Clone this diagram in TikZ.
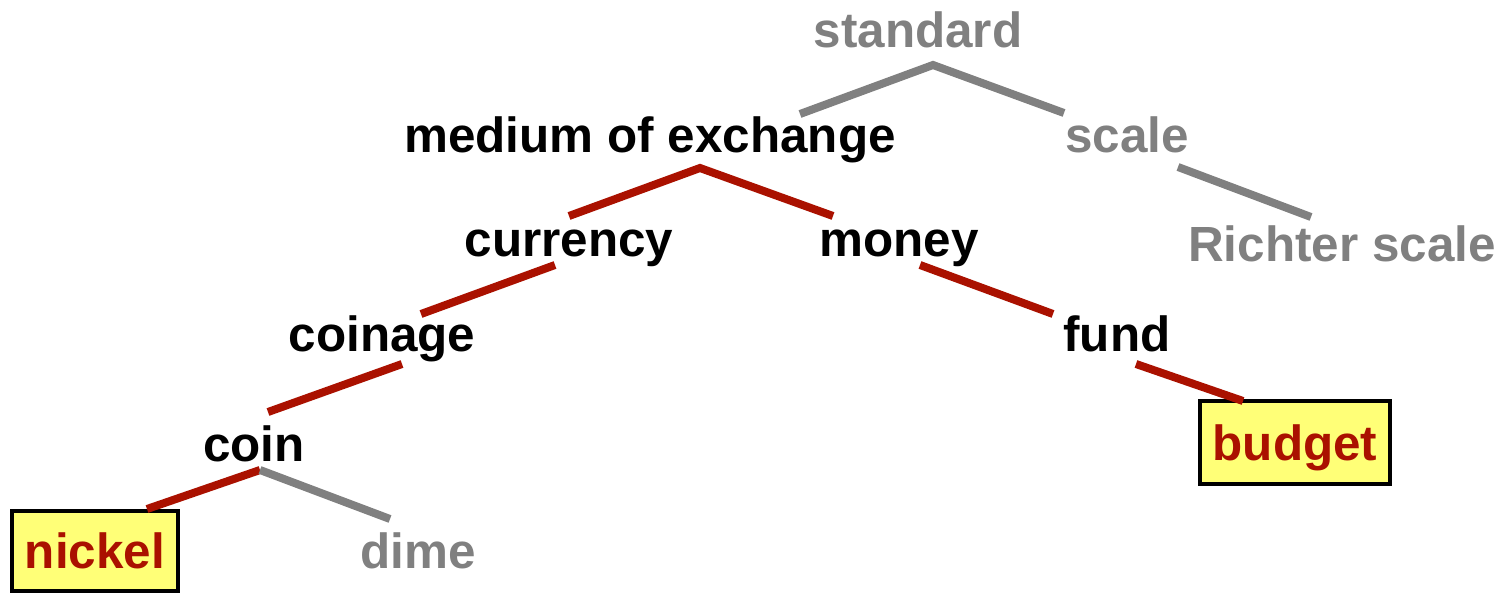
\documentclass[tikz,border=0pt]{standalone}
\usepackage{fontspec}
\setmainfont{Liberation Sans}
\definecolor{tred}{RGB}{170,17,0}
\definecolor{tgray}{RGB}{128,128,128}
\definecolor{tyellow}{RGB}{255,255,119}
\begin{document}
\begin{tikzpicture}[x=0.5pt,y=-0.5pt,
  word/.style={anchor=base,inner sep=0pt,font=\fontsize{24.7}{30}\selectfont\bfseries},
  blk/.style={word,text=black},
  gry/.style={word,text=tgray},
  hit/.style={font=\fontsize{24.7}{30}\selectfont\bfseries,text=tred,draw=black,line width=2pt,fill=tyellow,
     inner sep=0pt,text depth=0pt},
  redline/.style={draw=tred,line width=4pt},
  grayline/.style={draw=tgray,line width=4pt}]
\useasboundingbox (0,0) rectangle (1500,594);
% words
\node[gry] (standard) at (918,47) {standard};
\node[blk] (medium) at (650,152) {medium of exchange};
\node[gry] (scale) at (1127,152) {scale};
\node[blk] (currency) at (569,256) {currency};
\node[blk] (money) at (899,256) {money};
\node[gry] (richter) at (1342,261) {Richter scale};
\node[blk] (coinage) at (382,351) {coinage};
\node[blk] (fund) at (1117,351) {fund};
\node[blk] (coin) at (254,461) {coin};
\node[gry] (dime) at (418,568) {dime};
\node[hit,minimum width=95pt,minimum height=41.5pt,text height=17.5pt] (budget) at (1295,442.5) {budget};
\node[hit,minimum width=83pt,minimum height=40pt,text height=17pt] (nickel) at (95,551) {nickel};
% connector points
\coordinate (std-a) at (933,65);
\coordinate (std-l) at (800,114);
\coordinate (std-r) at (1064,113);
\coordinate (sc-a) at (1178,167);
\coordinate (sc-b) at (1311,217);
\coordinate (me-a) at (700,168);
\coordinate (me-l) at (569,216);
\coordinate (me-r) at (833,216);
\coordinate (cu-a) at (555,265);
\coordinate (cu-b) at (421,314);
\coordinate (mo-a) at (920,265);
\coordinate (mo-b) at (1053,314);
\coordinate (co-a) at (402,364);
\coordinate (co-b) at (268,412);
\coordinate (fu-a) at (1136,364);
\coordinate (fu-b) at (1243,401);
\coordinate (cn-a) at (260,470);
\coordinate (cn-l) at (147,509);
\coordinate (cn-r) at (390,519);
% connectors
\draw[grayline] (std-l) -- (std-a) -- (std-r);
\draw[grayline] (sc-a) -- (sc-b);
\draw[redline] (me-l) -- (me-a) -- (me-r);
\draw[redline] (cu-a) -- (cu-b);
\draw[redline] (mo-a) -- (mo-b);
\draw[redline] (co-a) -- (co-b);
\draw[redline] (fu-a) -- (fu-b);
\draw[redline] (cn-l) -- (cn-a);
\draw[grayline] (cn-a) -- (cn-r);
\end{tikzpicture}
\end{document}
